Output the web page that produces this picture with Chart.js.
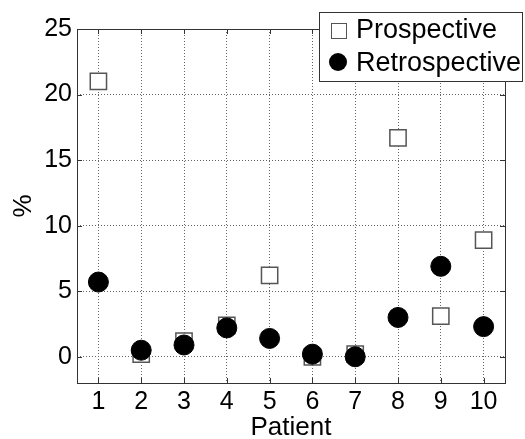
<!DOCTYPE html>
<html>
<head>
<meta charset="utf-8">
<script src="https://cdn.jsdelivr.net/npm/chart.js@4.4.0/dist/chart.umd.min.js"></script>
<style>
  html, body { margin: 0; padding: 0; background: #fff; }
  #wrap { width: 525px; height: 439px; }
</style>
</head>
<body>
<div id="wrap"><canvas id="chart" width="525" height="439"></canvas></div>
<script>
const patients = [1, 2, 3, 4, 5, 6, 7, 8, 9, 10];
const prospective = [21.0, 0.2, 1.2, 2.4, 6.2, 0.0, 0.2, 16.7, 3.1, 8.9];
const retrospective = [5.7, 0.5, 0.9, 2.2, 1.4, 0.2, 0.0, 3.0, 6.9, 2.3];
const yTicks = [0, 5, 10, 15, 20, 25];
const seriesNames = ['Prospective', 'Retrospective'];

const font = 'Liberation Sans, Arial, sans-serif';

const toPoints = (values) => patients.map((p, i) => ({ x: p, y: values[i] }));

// box around the axes, inward ticks on top/right, and the legend
const framePlugin = {
  id: 'frame',
  afterDatasetsDraw(chart) {
    const { ctx, chartArea: a, scales } = chart;
    ctx.save();
    ctx.strokeStyle = '#333';
    ctx.lineWidth = 1;
    ctx.strokeRect(a.left + 0.5, a.top + 0.5, a.right - a.left, a.bottom - a.top);

    ctx.beginPath();
    patients.forEach((p) => {
      const x = Math.round(scales.x.getPixelForValue(p)) + 0.5;
      ctx.moveTo(x, a.top); ctx.lineTo(x, a.top + 5);
      ctx.moveTo(x, a.bottom); ctx.lineTo(x, a.bottom - 5);
    });
    yTicks.forEach((v) => {
      const y = Math.round(scales.y.getPixelForValue(v)) + 0.5;
      ctx.moveTo(a.left, y); ctx.lineTo(a.left + 5, y);
      ctx.moveTo(a.right, y); ctx.lineTo(a.right - 5, y);
    });
    ctx.stroke();

    // legend
    const lx = 319, ly = 12, lw = 203, lh = 69;
    ctx.fillStyle = '#fff';
    ctx.fillRect(lx, ly, lw, lh);
    ctx.strokeStyle = '#333';
    ctx.strokeRect(lx + 0.5, ly + 0.5, lw, lh);

    ctx.fillStyle = '#fff';
    ctx.strokeStyle = '#555';
    ctx.fillRect(331, 23, 15, 15);
    ctx.strokeRect(331.5, 23.5, 15, 15);

    ctx.fillStyle = '#000';
    ctx.beginPath();
    ctx.arc(338, 62, 9, 0, Math.PI * 2);
    ctx.fill();

    ctx.font = '27px ' + font;
    ctx.textBaseline = 'middle';
    ctx.textAlign = 'left';
    ctx.fillText(seriesNames[0], 356, 31);
    ctx.fillText(seriesNames[1], 356, 64);
    ctx.restore();
  }
};

new Chart(document.getElementById('chart'), {
  type: 'scatter',
  data: {
    datasets: [
      {
        label: seriesNames[0],
        data: toPoints(prospective),
        pointStyle: 'rect',
        pointRadius: 11.5,
        pointHoverRadius: 11.5,
        backgroundColor: '#fff',
        borderColor: '#555',
        borderWidth: 1.5,
        order: 1
      },
      {
        label: seriesNames[1],
        data: toPoints(retrospective),
        pointStyle: 'circle',
        pointRadius: 10,
        pointHoverRadius: 10,
        backgroundColor: '#000',
        borderColor: '#000',
        borderWidth: 1,
        order: 0
      }
    ]
  },
  options: {
    responsive: false,
    animation: false,
    layout: { padding: { top: 29, right: 20, left: 0, bottom: 0 } },
    plugins: {
      legend: { display: false },
      tooltip: { enabled: false }
    },
    scales: {
      x: {
        type: 'linear',
        min: 0.5,
        max: 10.5,
        afterBuildTicks: (s) => { s.ticks = patients.map((v) => ({ value: v })); },
        afterFit: (s) => { s.height = 56; },
        border: { display: false, dash: [1, 2] },
        grid: { color: '#666', drawTicks: false, lineWidth: 1 },
        ticks: { color: '#000', font: { family: font, size: 25 }, padding: 4, maxRotation: 0, autoSkip: false },
        title: { display: true, text: 'Patient', color: '#000', font: { family: font, size: 26 }, padding: { top: 0, bottom: -4 } }
      },
      y: {
        type: 'linear',
        min: -2,
        max: 25,
        afterBuildTicks: (s) => { s.ticks = yTicks.map((v) => ({ value: v })); },
        afterFit: (s) => { s.width = 77; },
        border: { display: false, dash: [1, 2] },
        grid: { color: '#666', drawTicks: false, lineWidth: 1 },
        ticks: { color: '#000', font: { family: font, size: 25 }, padding: 5 },
        title: { display: true, text: '%', color: '#000', font: { family: font, size: 26 }, padding: { top: 8, bottom: 0 } }
      }
    }
  },
  plugins: [framePlugin]
});
</script>
</body>
</html>
